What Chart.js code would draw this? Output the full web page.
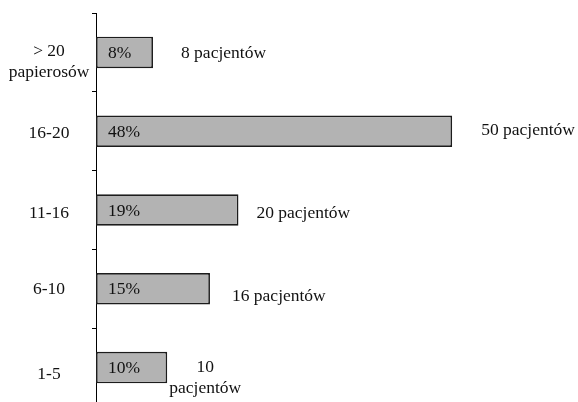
<!DOCTYPE html>
<html>
<head>
<meta charset="utf-8">
<script src="https://cdn.jsdelivr.net/npm/chart.js@4/dist/chart.umd.min.js"></script>
<style>
  html, body { margin: 0; padding: 0; background: #fff; overflow: hidden; }
  body { width: 578px; height: 402px; }
  #wrap { position: relative; width: 578px; height: 412px; }
</style>
</head>
<body>
<div id="wrap"><canvas id="c"></canvas></div>
<script>
// Number of cigarettes smoked per day
const categories = [['> 20', 'papierosów'], '16-20', '11-16', '6-10', '1-5'];
// Patients in each group (bar length)
const patients = [8, 50, 20, 16, 10];
// Share of patients in each group
const percents = ['8%', '48%', '19%', '15%', '10%'];
// Count annotations shown beside the bars
const countLabels = [['8 pacjentów'], ['50 pacjentów'], ['20 pacjentów'], ['16 pacjentów'], ['10', 'pacjentów']];

// Fine placement of the text around each bar
const catDy = [10, 2, 3, 1, 7];
const countDx = [28, 29, 18, 22, 38];
const countDy = [1, -1, 3, 8, 10];
const countAlign = ['left', 'left', 'left', 'left', 'center'];

const FONT = '17.5px "Liberation Serif", "Times New Roman", serif';

const textPlugin = {
  id: 'barTexts',
  afterDatasetsDraw(chart) {
    const ctx = chart.ctx;
    const meta = chart.getDatasetMeta(0);
    const yScale = chart.scales.y;
    ctx.save();
    ctx.font = FONT;
    ctx.fillStyle = '#111';
    ctx.textBaseline = 'middle';
    const lh = 21;
    meta.data.forEach((bar, i) => {
      // percentage inside the bar
      ctx.textAlign = 'left';
      ctx.fillText(percents[i], bar.base + 12, bar.y + 1);
      // patient count to the right
      const lines = countLabels[i];
      ctx.textAlign = countAlign[i];
      const y0 = bar.y + countDy[i] - (lines.length - 1) * lh / 2;
      lines.forEach((t, k) => ctx.fillText(t, bar.x + countDx[i], y0 + k * lh));
      // category label on the left
      const cat = Array.isArray(categories[i]) ? categories[i] : [categories[i]];
      ctx.textAlign = 'center';
      const cy = yScale.getPixelForValue(i) + catDy[i] - (cat.length - 1) * lh / 2;
      cat.forEach((t, k) => ctx.fillText(t, 49, cy + k * lh));
    });
    ctx.restore();
  }
};

new Chart(document.getElementById('c'), {
  type: 'bar',
  data: {
    labels: categories,
    datasets: [{
      data: patients,
      backgroundColor: '#b3b3b3',
      borderColor: '#1c1c1c',
      borderWidth: 1.7,
      borderSkipped: false,
      categoryPercentage: 1,
      barPercentage: 0.4
    }]
  },
  options: {
    indexAxis: 'y',
    responsive: true,
    maintainAspectRatio: false,
    animation: false,
    layout: { padding: { top: 13, right: 19, bottom: 5, left: 0 } },
    plugins: { legend: { display: false }, tooltip: { enabled: false } },
    scales: {
      x: { display: false, min: 0, max: 65 },
      y: {
        offset: true,
        afterFit(scale) { scale.width = 96; },
        ticks: { display: false },
        grid: {
          offset: true,
          drawOnChartArea: false,
          drawTicks: true,
          tickLength: 4,
          tickColor: '#000',
          color: '#000'
        },
        border: { display: true, color: '#000', width: 1 }
      }
    }
  },
  plugins: [textPlugin]
});
</script>
</body>
</html>
